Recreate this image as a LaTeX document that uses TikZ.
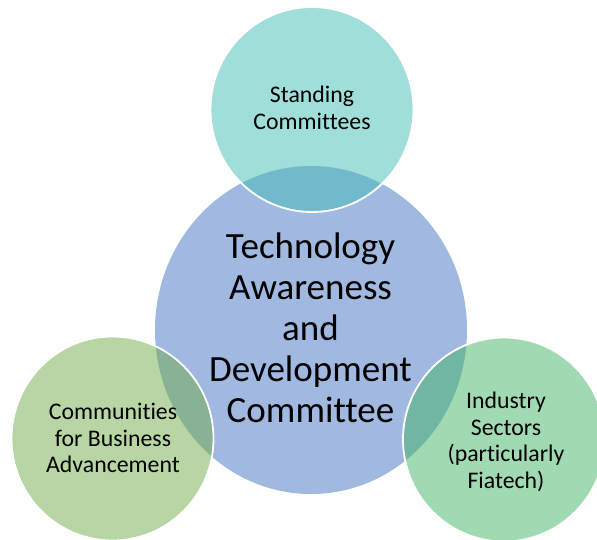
\documentclass[tikz,border=0pt]{standalone}
\usepackage{fontspec}
\setmainfont{Carlito}[Ligatures={NoCommon}]
\definecolor{cblue}{RGB}{68,114,196}
\definecolor{cteal}{RGB}{65,189,181}
\definecolor{cgreen}{RGB}{112,173,71}
\definecolor{cmint}{RGB}{65,181,101}
\tikzset{
  bubble/.style={fill opacity=0.5, draw=white, draw opacity=1, line width=1.8pt},
  bigtext/.style={align=center, font=\fontsize{37}{41}\selectfont, text=black, inner sep=0pt},
  smalltext/.style={align=center, font=\fontsize{23.8}{26.5}\selectfont, text=black, inner sep=0pt}
}
\begin{document}
\begin{tikzpicture}[x=1pt,y=1pt]
\useasboundingbox (0,0) rectangle (597,-539);
\fill[cblue, fill opacity=0.5] (311,-330) ellipse [x radius=156, y radius=164];
\path[bubble, fill=cteal] (312,-109.5) ellipse [x radius=101.5, y radius=102.5];
\path[bubble, fill=cgreen] (112.5,-438.5) ellipse [x radius=101, y radius=102];
\path[bubble, fill=cmint] (504,-439.5) ellipse [x radius=101, y radius=102];
\node[bigtext] (center) at (310.5,-328) {Technology\\Awareness\\and\\Development\\Committee};
\node[smalltext] (top) at (312,-108) {Standing\\Committees};
\node[smalltext] (left) at (113,-438) {Communities\\for Business\\Advancement};
\node[smalltext] (right) at (506,-442) {Industry\\Sectors\\(particularly\\Fiatech)};
\end{tikzpicture}
\end{document}
